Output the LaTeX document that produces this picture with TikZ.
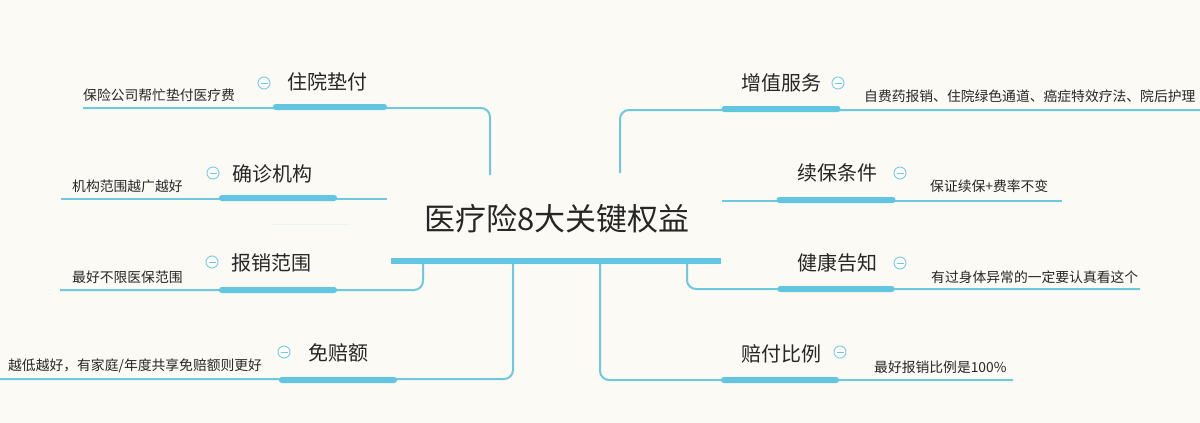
\documentclass[tikz,border=0pt]{standalone}
\usepackage{fontspec}
\setmainfont{Noto Sans CJK SC}
\definecolor{bg}{HTML}{FCFAF5}
\definecolor{ln}{HTML}{6DC8E0}
\definecolor{barc}{HTML}{63C6E0}
\definecolor{txt}{HTML}{262626}
\begin{document}
\begin{tikzpicture}[x=1pt,y=-1pt,
 lbl/.style={inner sep=0pt, text=txt, font=\fontsize{20}{24}\selectfont},
 sub/.style={inner sep=0pt, text=txt, anchor=west, font=\fontsize{13.8}{16}\selectfont},
 ttl/.style={inner sep=0pt, text=txt, font=\fontsize{31}{36}\selectfont},
 conn/.style={draw=ln, line width=2pt, rounded corners=9pt},
 barnode/.style={fill=barc, rounded corners=2.8pt, minimum height=6pt, inner sep=0pt},
 tog/.style={circle, draw=ln!85, line width=1pt, minimum size=12pt, inner sep=0pt, fill=white,
   path picture={\draw[ln, line width=1pt] ([xshift=-3.5pt]path picture bounding box.center) -- ([xshift=3.5pt]path picture bounding box.center);}},
]
\fill[bg] (0,0) rectangle (1200,423);
\useasboundingbox (0,0) rectangle (1200,423);

% central bar
\coordinate (cL) at (391,261);
\coordinate (cR) at (721,261);
\node[ttl] (title) at (557,219) {医疗险8大关键权益};

% connector end points
\coordinate (a1) at (83,108);  \coordinate (a1c) at (490,108); \coordinate (a1e) at (490,175);
\coordinate (a2) at (61,199);  \coordinate (a2e) at (387,199);
\coordinate (a3) at (60,290);  \coordinate (a3c) at (423,290); \coordinate (a3e) at (423,264);
\coordinate (a4) at (0,379);   \coordinate (a4c) at (513,379); \coordinate (a4e) at (513,264);
\coordinate (b1) at (620,173); \coordinate (b1c) at (620,110); \coordinate (b1e) at (1200,110);
\coordinate (b2) at (722,201); \coordinate (b2e) at (1062,201);
\coordinate (b3) at (687,264); \coordinate (b3c) at (687,289); \coordinate (b3e) at (1140,289);
\coordinate (b4) at (600,264); \coordinate (b4c) at (600,380); \coordinate (b4e) at (1013,380);
\coordinate (f1) at (273,224); \coordinate (f2) at (350,224);

\draw[conn] (a1) -- (a1c) -- (a1e);
\draw[conn] (a2) -- (a2e);
\draw[conn] (a3) -- (a3c) -- (a3e);
\draw[conn] (a4) -- (a4c) -- (a4e);
\draw[conn] (b1) -- (b1c) -- (b1e);
\draw[conn] (b2) -- (b2e);
\draw[conn] (b3) -- (b3c) -- (b3e);
\draw[conn] (b4) -- (b4c) -- (b4e);
\draw[ln!18, line width=1pt] (f1) -- (f2);

\draw[barc, line width=6.5pt] (cL) -- (cR);

% branch bars
\node[barnode, minimum width=114pt] (bar1) at (330,107) {};
\node[barnode, minimum width=118pt] (bar2) at (278,198) {};
\node[barnode, minimum width=118pt] (bar3) at (278,290) {};
\node[barnode, minimum width=118pt] (bar4) at (338,380) {};
\node[barnode, minimum width=119pt] (bar5) at (781,109) {};
\node[barnode, minimum width=119pt] (bar6) at (836,200) {};
\node[barnode, minimum width=117pt] (bar7) at (836,289) {};
\node[barnode, minimum width=118pt] (bar8) at (780,380) {};

% labels
\node[lbl] (l1) at (327,82) {住院垫付};
\node[lbl] (l2) at (272,174) {确诊机构};
\node[lbl] (l3) at (271,263) {报销范围};
\node[lbl] (l4) at (338,353) {免赔额};
\node[lbl] (l5) at (781,83) {增值服务};
\node[lbl] (l6) at (837,173) {续保条件};
\node[lbl] (l7) at (837,263) {健康告知};
\node[lbl] (l8) at (781,354) {赔付比例};

% toggles
\node[tog] (t1) at (264,83) {};
\node[tog] (t2) at (213,173) {};
\node[tog] (t3) at (212,262) {};
\node[tog] (t4) at (284,352) {};
\node[tog] (t5) at (838,83) {};
\node[tog] (t6) at (900,173) {};
\node[tog] (t7) at (900,263) {};
\node[tog] (t8) at (840,352) {};

% sub texts
\node[sub] (s1) at (83,95) {保险公司帮忙垫付医疗费};
\node[sub] (s2) at (72,186) {机构范围越广越好};
\node[sub] (s3) at (72,277) {最好不限医保范围};
\node[sub] (s4) at (8,366) {越低越好，有家庭/年度共享免赔额则更好};
\node[sub] (s5) at (864,96) {自费药报销、住院绿色通道、癌症特效疗法、院后护理};
\node[sub] (s6) at (930,186) {保证续保+费率不变};
\node[sub] (s7) at (931,277) {有过身体异常的一定要认真看这个};
\node[sub] (s8) at (874,367) {最好报销比例是100\%};
\end{tikzpicture}
\end{document}
